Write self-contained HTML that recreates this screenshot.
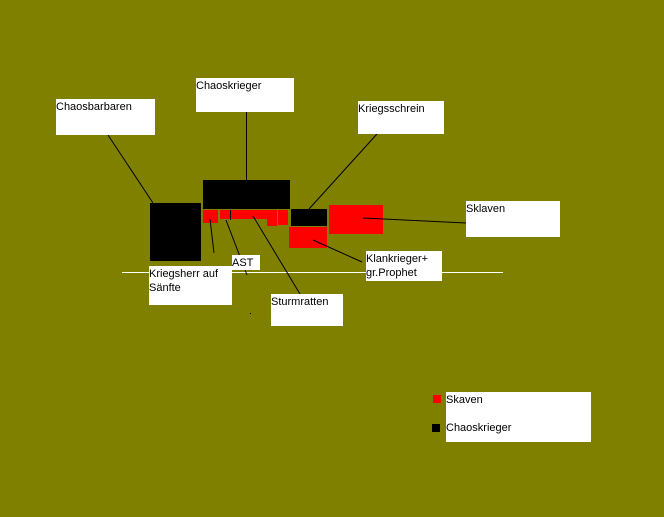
<!DOCTYPE html>
<html><head><style>
html,body{margin:0;padding:0;background:#808000;}
svg{display:block}
text{font-family:"Liberation Sans",sans-serif;font-size:11px;fill:#000}
</style></head><body>
<svg width="664" height="517" viewBox="0 0 664 517" xmlns="http://www.w3.org/2000/svg">
<rect width="664" height="517" fill="#808000"/>
<line x1="122" y1="272.5" x2="503" y2="272.5" stroke="#fff" stroke-width="1"/>
<!-- units -->
<rect x="150" y="203" width="51" height="58" fill="#000"/>
<rect x="203" y="180" width="87" height="29" fill="#000"/>
<rect x="203" y="210" width="15" height="13" fill="#f00"/>
<rect x="220" y="210" width="57" height="9" fill="#f00"/>
<rect x="267" y="218" width="10" height="8" fill="#f00"/>
<rect x="278" y="210" width="10" height="15" fill="#f00"/>
<rect x="291" y="209" width="36" height="17" fill="#000"/>
<rect x="329" y="205" width="54" height="29" fill="#f00"/>
<rect x="289" y="227" width="38" height="21" fill="#f00"/>
<!-- lines -->
<g stroke="#000" stroke-width="1" fill="none">
<line x1="108" y1="135" x2="153" y2="203"/>
<line x1="246.5" y1="112" x2="246.5" y2="180"/>
<line x1="377" y1="134" x2="309" y2="209"/>
<line x1="363" y1="218" x2="466" y2="223"/>
<line x1="313" y1="240" x2="362" y2="262"/>
<line x1="210" y1="219" x2="214" y2="253"/>
<line x1="230.5" y1="210" x2="230.5" y2="220"/>
<line x1="226" y1="220" x2="247" y2="275"/>
<line x1="253" y1="216" x2="300" y2="294"/>
</g>
<rect x="250" y="313" width="1" height="1" fill="#000"/>
<!-- label boxes -->
<rect x="56" y="99" width="99" height="36" fill="#fff"/><text x="56" y="110">Chaosbarbaren</text>
<rect x="196" y="78" width="98" height="34" fill="#fff"/><text x="196" y="89">Chaoskrieger</text>
<rect x="358" y="101" width="86" height="33" fill="#fff"/><text x="358" y="112">Kriegsschrein</text>
<rect x="466" y="201" width="94" height="36" fill="#fff"/><text x="466" y="212">Sklaven</text>
<rect x="366" y="251" width="76" height="30" fill="#fff"/><text x="366" y="262">Klankrieger+</text><text x="366" y="276">gr.Prophet</text>
<rect x="232" y="255" width="28" height="15" fill="#fff"/><text x="232" y="266">AST</text>
<rect x="149" y="266" width="83" height="39" fill="#fff"/><text x="149" y="277">Kriegsherr auf</text><text x="149" y="291">Sänfte</text>
<rect x="271" y="294" width="72" height="32" fill="#fff"/><text x="271" y="305">Sturmratten</text>
<!-- legend -->
<rect x="446" y="392" width="145" height="50" fill="#fff"/>
<rect x="433" y="395" width="8" height="8" fill="#f00"/>
<rect x="432" y="424" width="8" height="8" fill="#000"/>
<text x="446" y="403">Skaven</text>
<text x="446" y="431">Chaoskrieger</text>
</svg>
</body></html>
